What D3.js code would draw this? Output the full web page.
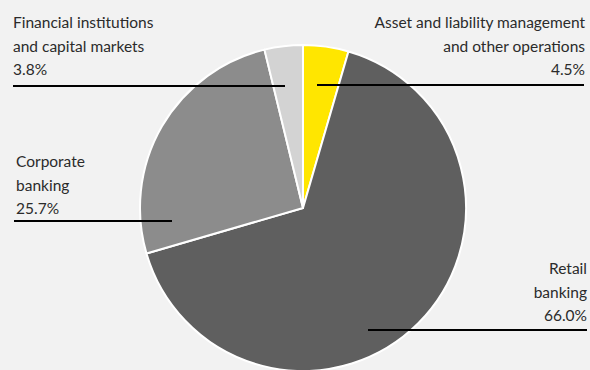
<!DOCTYPE html>
<html>
<head>
<meta charset="utf-8">
<script src="https://cdn.jsdelivr.net/npm/d3@7"></script>
<style>
  html, body { margin: 0; padding: 0; background: #f2f2f2; }
  svg { display: block; }
  text { font-family: Lato, "Open Sans", sans-serif; fill: #2b2b2b; }
</style>
</head>
<body>
<svg id="chart" width="590" height="370"></svg>
<script>
// Segment shares, clockwise from 12 o'clock
const segments = ["Asset and liability management and other operations", "Retail banking", "Corporate banking", "Financial institutions and capital markets"];
const shares = [4.5, 66.0, 25.7, 3.8];
const labelLines = [
  ["Asset and liability management", "and other operations"],
  ["Retail", "banking"],
  ["Corporate", "banking"],
  ["Financial institutions", "and capital markets"]
];
const colors = ["#ffe600", "#5f5f5f", "#8c8c8c", "#d3d3d3"];

const W = 590, H = 370;
const cx = 303, cy = 208, R = 163;

// Label layout: text anchor, text x, first baseline, leader line y and x-extent
const layout = [
  { anchor: "end",   tx: 585, ty: 28,  ly: 85,  x0: 317, x1: 584 },
  { anchor: "end",   tx: 587, ty: 274, ly: 330, x0: 368, x1: 587 },
  { anchor: "start", tx: 16,  ty: 167, ly: 221, x0: 14,  x1: 172 },
  { anchor: "start", tx: 13,  ty: 28,  ly: 86,  x0: 13,  x1: 285 }
];

const svg = d3.select("#chart");
const data = segments.map((s, i) => ({ name: s, value: shares[i], i }));

const pie = d3.pie().sort(null).value(d => d.value);
const arc = d3.arc().innerRadius(0).outerRadius(R);

const g = svg.append("g").attr("transform", `translate(${cx},${cy})`);
g.selectAll("path")
  .data(pie(data))
  .join("path")
  .attr("d", arc)
  .attr("fill", d => colors[d.data.i])
  .attr("stroke", "#ffffff")
  .attr("stroke-width", 2)
  .attr("stroke-linejoin", "round");

const fmt = d3.format(".1f");
const lineH = 23.5;

data.forEach((d, i) => {
  const L = layout[i];
  const t = svg.append("text")
    .attr("text-anchor", L.anchor)
    .attr("font-size", 15.5);
  labelLines[i].concat([fmt(d.value) + "%"]).forEach((line, k) => {
    t.append("tspan").attr("x", L.tx).attr("y", L.ty + k * lineH).text(line);
  });
  svg.append("line")
    .attr("x1", L.x0).attr("x2", L.x1)
    .attr("y1", L.ly).attr("y2", L.ly)
    .attr("stroke", "#000")
    .attr("stroke-width", 2);
});
</script>
</body>
</html>
